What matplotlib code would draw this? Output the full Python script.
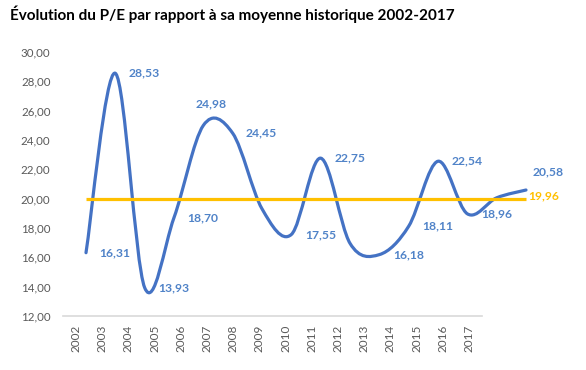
import numpy as np
import matplotlib.pyplot as plt
from matplotlib.path import Path
from matplotlib.patches import PathPatch

years = [str(y) for y in range(2002, 2018)]
pe = [16.31, 28.53, 13.93, 18.70, 24.98, 24.45, 19.30, 17.55,
      22.75, 16.95, 16.18, 18.11, 22.54, 18.96, 20.05, 20.58]
moyenne = 19.96
# which points carry a visible data label in the original
shown = [True, True, True, True, True, True, False, True,
         True, False, True, True, True, True, False, True]
yticks = [12, 14, 16, 18, 20, 22, 24, 26, 28, 30]

plt.rcParams['font.family'] = ['Lato', 'DejaVu Sans']

BLUE = '#4472C4'
LABEL_BLUE = '#5083C8'
YELLOW = '#FFC000'
GREY = '#595959'

W, H = 586, 370


def smooth_path(x, y):
    # Excel-like smoothed line: Catmull-Rom segments as cubic Bezier curves
    pts = np.column_stack([x, y]).astype(float)
    n = len(pts)
    verts = [pts[0]]
    codes = [Path.MOVETO]
    for i in range(n - 1):
        p0 = pts[i - 1] if i > 0 else pts[i]
        p1 = pts[i]
        p2 = pts[i + 1]
        p3 = pts[i + 2] if i + 2 < n else pts[i + 1]
        verts += [p1 + (p2 - p0) / 6, p2 - (p3 - p1) / 6, p2]
        codes += [Path.CURVE4] * 3
    return Path(verts, codes)


fig = plt.figure(figsize=(W / 100, H / 100), dpi=100)
fig.patch.set_facecolor('white')

fig.text(10 / W, 1 - 14 / H, 'Évolution du P/E par rapport à sa moyenne historique 2002-2017',
         fontsize=11, fontweight='bold', color='black', va='center', ha='left')

bottom = 54 / H
height = (316 - 51.7) / H

# category axis (year labels)
ax = fig.add_axes([63 / W, bottom, 419 / W, height])
ax.set_xlim(-0.5, len(years) - 0.5)
ax.set_ylim(12, 30)
ax.set_xticks(range(len(years)))
ax.set_xticklabels(years, rotation=90, fontsize=8.5)
ax.set_yticks(yticks)
ax.set_yticklabels([f'{v:.2f}'.replace('.', ',') for v in yticks], fontsize=8.3)
for s in ['top', 'right', 'left']:
    ax.spines[s].set_visible(False)
ax.spines['bottom'].set_color('#D9D9D9')
ax.spines['bottom'].set_linewidth(1.2)
ax.tick_params(axis='both', length=0, colors=GREY)
ax.tick_params(axis='y', pad=9)
ax.tick_params(axis='x', pad=6)

# series axis (line is shifted relative to the category labels in the original)
sp = 440 / 15
ax2 = fig.add_axes([(86 - sp / 2) / W, bottom, (440 + sp) / W, height])
ax2.set_xlim(-0.5, len(years) - 0.5)
ax2.set_ylim(12, 30)
ax2.axis('off')
ax2.patch.set_visible(False)

x = np.arange(len(pe))
ax2.add_patch(PathPatch(smooth_path(x, pe), facecolor='none', edgecolor=BLUE,
                        lw=2.3, capstyle='round', joinstyle='round', clip_on=False))
ax2.plot([x[0], x[-1]], [moyenne, moyenne], color=YELLOW, lw=2.3,
         solid_capstyle='butt', clip_on=False)

# label offsets in pixels (dx, dy), default: to the right of the point
offsets = {4: (8, 22), 15: (22, 18)}
k = 72 / 100
for i, v in enumerate(pe):
    if not shown[i]:
        continue
    dx, dy = offsets.get(i, (29, 0))
    ax2.annotate(f'{v:.2f}'.replace('.', ','), (x[i], v), xytext=(dx * k, dy * k),
                 textcoords='offset points', ha='center', va='center',
                 fontsize=8.7, fontweight='bold', color=LABEL_BLUE, annotation_clip=False)

ax2.annotate(f'{moyenne:.2f}'.replace('.', ','), (x[-1], moyenne), xytext=(2 * k, 3 * k),
             textcoords='offset points', ha='left', va='center',
             fontsize=8.7, fontweight='bold', color=YELLOW, annotation_clip=False)

fig.savefig('out.png', dpi=100)
